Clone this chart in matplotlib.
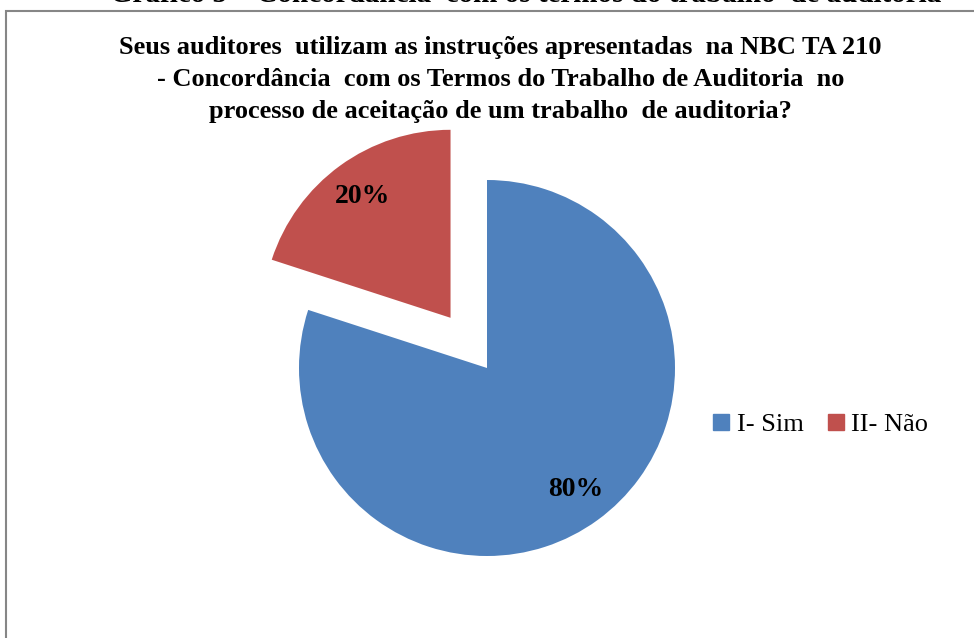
import matplotlib.pyplot as plt
from matplotlib.patches import Rectangle, Patch

categories = ['I- Sim', 'II- Não']
shares = [80, 20]
colors = ['#4F81BD', '#C0504D']
title = ('Seus auditores  utilizam as instruções apresentadas  na NBC TA 210\n'
         '- Concordância  com os Termos do Trabalho de Auditoria  no\n'
         'processo de aceitação de um trabalho  de auditoria?')
caption = 'Gráfico 5 – Concordância  com os termos do trabalho  de auditoria'

plt.rcParams['font.family'] = ['Liberation Serif', 'DejaVu Serif']

fig = plt.figure(figsize=(9.74, 6.38), dpi=100)
ax = fig.add_axes([0, 0, 1, 1])

r = 188
wedges, texts, autotexts = ax.pie(
    shares, colors=colors, startangle=90, counterclock=False,
    explode=[0, 0.33 * r], radius=r, center=(487, 270),
    autopct='%d%%', pctdistance=0.8, frame=False,
    wedgeprops=dict(linewidth=0),
    textprops=dict(fontsize=20, fontweight='bold', color='black'))
ax.set_xlim(0, 974)
ax.set_ylim(0, 638)
ax.set_aspect('equal')
ax.axis('off')

# box border of the chart area
fig.patches.append(Rectangle((6 / 974, -0.1), 1.2, 1.1 - 11 / 638,
                             transform=fig.transFigure, fill=False,
                             edgecolor='#868686', linewidth=1.5))

# clipped caption above the chart
fig.text(0.54, 1 - 2 / 638, caption, ha='center', va='baseline',
         fontsize=21, fontweight='bold')

fig.text(0.514, 1 - 36 / 638, title, ha='center', va='top',
         fontsize=19, fontweight='bold', linespacing=1.5)

handles = [Patch(color=c, label=l) for c, l in zip(colors, categories)]
fig.legend(handles=handles, loc='center left', bbox_to_anchor=(0.708, 0.334),
           ncol=2, frameon=False, fontsize=19, handlelength=0.6,
           handleheight=0.6, handletextpad=0.3, columnspacing=0.9)

fig.savefig('out.png', dpi=100)
